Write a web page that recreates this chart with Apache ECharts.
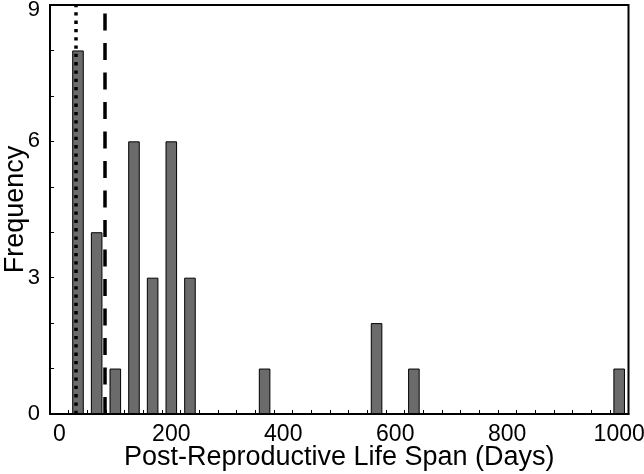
<!DOCTYPE html>
<html><head><meta charset="utf-8">
<script src="https://cdn.jsdelivr.net/npm/echarts@6/dist/echarts.min.js"></script>
<style>html,body{margin:0;padding:0;background:#fff}#c{width:644px;height:474px}</style>
</head><body><div id="c"></div>
<script>
// Histogram bins (bin centres in days) and frequencies
const binCenters = [0, 33.3, 66.7, 100, 133.3, 166.7, 200, 233.3, 266.7, 300, 333.3, 366.7, 400, 433.3, 466.7, 500, 533.3, 566.7, 600, 633.3, 666.7, 700, 733.3, 766.7, 800, 833.3, 866.7, 900, 933.3, 966.7, 1000];
const counts     = [0, 8, 4, 1, 6, 3, 6, 3, 0, 0, 0, 1, 0, 0, 0, 0, 0, 2, 0, 1, 0, 0, 0, 0, 0, 0, 0, 0, 0, 0, 1];
const binWidth = 33.333;
const xTickLabels = [0, 200, 400, 600, 800, 1000];
const yTickLabels = [0, 3, 6, 9];
const dottedLineDay = 29.4;
const dashedLineDay = 82;

const FONT = "'Liberation Sans', Arial, Helvetica, sans-serif";
const yMax = 9;
const chart = echarts.init(document.getElementById('c'));
chart.setOption({
  animation: false,
  textStyle: { fontFamily: FONT, color: '#000' },
  grid: { left: 50, right: 15.5, top: 5, bottom: 60, show: true, borderColor: '#000', borderWidth: 2, backgroundColor: 'transparent', containLabel: false, outerBoundsMode: 'none' },
  xAxis: [{
    type: 'category',
    data: binCenters.map(String),
    boundaryGap: true,
    axisLine: { onZero: false, lineStyle: { color: '#000', width: 2 } },
    axisTick: { show: true, inside: true, length: 4, interval: 0, lineStyle: { color: '#000', width: 1 } },
    axisLabel: {
      interval: (i) => xTickLabels.includes(Math.round(binCenters[i])),
      formatter: (v) => String(Math.round(Number(v))),
      fontSize: 23, color: '#000', margin: 9, fontFamily: FONT, hideOverlap: false
    },
    splitLine: { show: false },
    name: 'Post-Reproductive Life Span (Days)',
    nameLocation: 'middle', nameGap: 30, nameMoveOverlap: false,
    nameTextStyle: { fontSize: 27, color: '#000', fontFamily: FONT }
  }, {
    type: 'value',
    min: binCenters[0] - binWidth / 2,
    max: binCenters[binCenters.length - 1] + binWidth / 2,
    show: false
  }],
  yAxis: {
    type: 'value', min: 0, max: yMax, interval: 1,
    axisLine: { show: true, onZero: false, lineStyle: { color: '#000', width: 2 } },
    axisTick: { show: true, inside: true, length: 4, lineStyle: { color: '#000', width: 1 } },
    axisLabel: {
      formatter: (v) => !yTickLabels.includes(v) ? '' : (v === yMax ? '{t|' + v + '}' : String(v)),
      rich: { t: { fontSize: 22, color: '#000', fontFamily: FONT, padding: [10, 0, 0, 0] } },
      fontSize: 22, color: '#000', margin: 10, fontFamily: FONT
    },
    splitLine: { show: false },
    name: 'Frequency', nameLocation: 'middle', nameGap: 21, nameMoveOverlap: false,
    nameTextStyle: { fontSize: 27, color: '#000', fontFamily: FONT }
  },
  series: [{
    type: 'bar',
    xAxisIndex: 0,
    data: counts,
    barWidth: '62%',
    itemStyle: { color: '#6b6b6b', borderColor: '#000', borderWidth: 1 }
  }, {
    type: 'line',
    xAxisIndex: 1,
    data: [],
    markLine: {
      silent: true, symbol: 'none', label: { show: false },
      data: [
        { xAxis: dottedLineDay, lineStyle: { color: '#000', width: 3.5, type: [3.3, 5] } },
        { xAxis: dashedLineDay, lineStyle: { color: '#000', width: 3.5, type: [17, 12.5] } }
      ]
    }
  }]
});
</script></body></html>
